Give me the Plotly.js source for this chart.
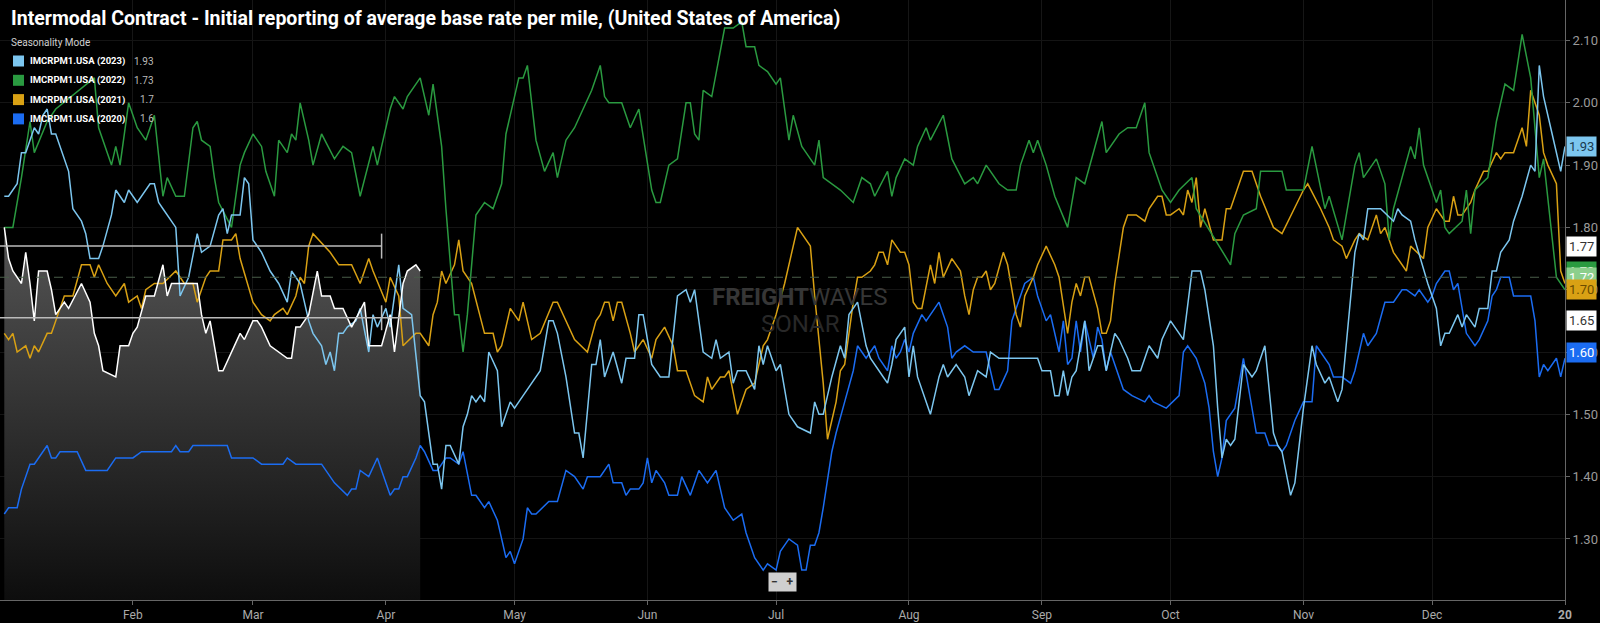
<!DOCTYPE html>
<html>
<head>
<meta charset="utf-8">
<script src="https://cdn.plot.ly/plotly-3.0.1.min.js"></script>
<style>
  html, body { margin: 0; padding: 0; background: #000; }
  #plotDiv { width: 1600px; height: 623px; }
</style>
</head>
<body>
<div id="plotDiv"></div>
<script>
'use strict';

// seasonality mode: x is the day of the year
const monthTicks = [31, 59, 90, 120, 151, 181, 212, 243, 273, 304, 334, 365];
const monthLabels = ['Feb', 'Mar', 'Apr', 'May', 'Jun', 'Jul', 'Aug', 'Sep', 'Oct', 'Nov', 'Dec', '<b>20</b>'];
const yTicks = [1.30, 1.40, 1.50, 1.60, 1.70, 1.80, 1.90, 2.00, 2.10];

const days2022 = [1,3,5,7,8,11,13,20,22,23,26,27,28,30,32,34,36,38,39,41,43,45,46,47,49,50,51,54,55,56,57,59,61,62,64,65,67,68,69,
  70,72,73,75,78,80,82,84,87,88,91,92,94,95,98,100,101,103,104,106,107,108,109,111,113,115,117,
  118,121,122,123,125,127,129,130,132,134,136,138,140,141,142,145,147,149,152,153,154,156,158,160,161,162,163,
  164,166,169,171,173,174,176,177,179,181,182,183,184,185,187,188,190,191,192,196,199,201,203,204,207,208,209,211,
  213,214,216,217,220,222,225,227,228,230,233,235,237,238,240,241,242,244,246,249,251,253,255,257,
  258,259,261,263,265,267,268,271,273,275,278,279,
  287,288,290,293,294,299,300,304,306,309,310,313,316,317,318,321,323,324,325,329,330,331,332,335,336,337,338,341,342,343,344,347,349,351,353,355,357,359,360,363,365];
const rate2022 = [1.80,1.80,1.88,1.97,1.92,1.97,1.99,2.03,2.04,1.96,1.90,1.93,1.90,2.00,1.96,1.94,1.98,1.85,1.88,1.85,1.85,1.96,1.97,1.94,1.93,1.88,1.84,1.80,1.85,1.90,1.92,1.95,1.93,1.89,1.85,1.94,1.92,1.95,1.94,
  2.00,1.94,1.90,1.95,1.91,1.93,1.92,1.85,1.93,1.90,1.99,2.01,1.99,2.01,2.04,1.98,2.03,1.93,1.83,1.66,1.66,1.60,1.66,1.82,1.84,1.83,1.87,
  1.95,2.04,2.04,2.06,1.94,1.89,1.92,1.88,1.94,1.96,1.99,2.02,2.06,2.01,2.00,2.00,1.96,1.99,1.86,1.84,1.84,1.90,1.91,2.00,2.00,1.95,1.94,
  2.02,2.01,2.12,2.12,2.13,2.09,2.09,2.06,2.05,2.03,2.04,1.99,1.94,1.98,1.93,1.92,1.90,1.94,1.88,1.86,1.84,1.88,1.87,1.85,1.89,1.85,1.88,1.91,
  1.90,1.93,1.96,1.94,1.98,1.91,1.87,1.88,1.87,1.90,1.87,1.86,1.86,1.90,1.94,1.92,1.94,1.90,1.85,1.80,1.88,1.87,1.92,1.97,
  1.92,1.93,1.95,1.96,1.96,2.00,1.92,1.86,1.84,1.86,1.88,1.83,
  1.74,1.79,1.82,1.83,1.89,1.89,1.86,1.86,1.93,1.83,1.85,1.78,1.90,1.92,1.88,1.91,1.87,1.78,1.83,1.93,1.91,1.96,1.90,1.84,1.86,1.80,1.79,1.81,1.86,1.79,1.86,1.88,1.97,2.03,2.02,2.11,2.04,1.88,1.91,1.72,1.70];

const days2023 = [1,2,4,5,6,7,8,9,10,11,12,13,15,16,17,18,19,20,21,23,
  24,26,27,29,30,32,33,35,36,37,38,41,42,44,46,47,49,51,52,53,54,56,57,58,59,61,63,65,67,68,69,
  70,72,73,75,76,77,78,79,80,81,83,84,86,87,88,90,91,93,94,96,97,98,99,100,101,102,103,104,105,107,108,109,110,111,112,113,114,116,
  117,119,120,122,124,126,128,129,130,132,134,135,136,138,139,140,141,143,145,146,148,149,150,152,154,156,158,160,161,162,163,
  164,166,167,168,170,171,172,174,176,177,178,179,181,182,184,186,189,190,191,192,194,196,197,198,200,202,203,206,207,208,209,211,
  212,213,214,217,219,220,221,223,225,226,228,230,231,233,242,243,245,246,247,248,249,250,251,253,254,256,257,
  258,260,261,263,264,266,267,268,270,271,273,275,276,278,280,281,283,284,
  285,286,287,288,290,292,293,295,297,298,299,301,302,304,306,307,309,310,312,313,314,316,317,318,319,322,325,326,327,329,330,333,335,336,337,338,340,341,342,344,345,347,348,349,350,352,353,355,357,358,359,360,362,364,365];
const rate2023 = [1.85,1.85,1.87,1.92,1.92,1.94,1.96,1.95,1.98,1.99,1.95,1.95,1.91,1.89,1.83,1.82,1.81,1.79,1.75,1.75,
  1.77,1.82,1.86,1.84,1.86,1.84,1.85,1.87,1.87,1.84,1.83,1.80,1.69,1.72,1.79,1.76,1.77,1.82,1.83,1.79,1.82,1.82,1.88,1.87,1.78,1.76,1.73,1.71,1.68,1.73,1.72,
  1.71,1.65,1.63,1.61,1.58,1.60,1.57,1.63,1.63,1.64,1.65,1.67,1.60,1.66,1.64,1.67,1.64,1.74,1.67,1.66,1.60,1.53,1.52,1.47,1.42,1.42,1.38,1.45,1.45,1.42,1.48,1.50,1.53,1.52,1.53,1.52,1.60,1.57,
  1.48,1.52,1.51,1.53,1.55,1.57,1.65,1.65,1.63,1.56,1.47,1.47,1.43,1.58,1.58,1.62,1.56,1.60,1.55,1.59,1.59,1.66,1.66,1.58,1.56,1.56,1.69,1.70,1.68,1.70,1.65,
  1.60,1.59,1.62,1.59,1.60,1.55,1.57,1.57,1.54,1.61,1.58,1.61,1.57,1.58,1.50,1.48,1.47,1.52,1.50,1.50,1.56,1.61,1.59,1.66,1.68,1.61,1.59,1.56,1.55,1.58,1.62,1.64,
  1.56,1.61,1.56,1.50,1.56,1.58,1.56,1.58,1.56,1.53,1.57,1.56,1.60,1.59,1.59,1.57,1.57,1.53,1.53,1.57,1.53,1.56,1.57,1.65,1.57,1.61,1.61,
  1.57,1.63,1.62,1.59,1.57,1.57,1.59,1.61,1.59,1.62,1.65,1.63,1.62,1.73,1.73,1.70,1.61,1.51,
  1.43,1.46,1.45,1.46,1.58,1.56,1.57,1.61,1.47,1.45,1.44,1.37,1.39,1.51,1.61,1.58,1.55,1.56,1.52,1.54,1.61,1.76,1.79,1.78,1.83,1.83,1.81,1.83,1.82,1.81,1.78,1.71,1.67,1.61,1.63,1.63,1.66,1.64,1.66,1.64,1.67,1.67,1.73,1.73,1.76,1.78,1.81,1.85,1.90,1.89,2.06,2.01,1.95,1.89,1.93];

const days2021 = [1,2,3,4,6,7,8,9,11,12,13,15,17,19,21,22,23,
  25,27,29,30,32,33,34,36,38,41,43,45,46,48,49,51,52,54,55,56,59,61,63,64,66,67,69,70,
  71,72,73,77,79,80,82,84,86,87,90,91,93,94,97,98,100,101,102,103,104,106,107,108,109,110,113,115,116,117,
  119,121,122,124,126,129,130,134,137,139,140,141,142,143,144,145,147,148,150,152,153,155,157,158,160,162,164,
  165,166,168,169,170,172,174,176,178,179,181,183,185,186,189,190,192,193,195,196,197,198,199,200,201,203,204,205,206,207,208,210,211,
  212,213,214,215,217,218,219,220,222,224,225,226,227,228,229,230,231,232,234,235,237,238,239,241,242,244,246,247,249,250,251,252,253,254,256,257,258,
  259,260,262,263,264,265,267,268,270,271,272,273,275,276,277,278,279,280,281,283,285,
  286,287,290,292,294,297,299,304,305,308,310,311,313,314,316,317,319,321,322,323,325,328,329,332,333,335,337,338,339,340,341,343,344,346,347,349,350,351,353,355,356,357,359,360,361,363,364,365];
const rate2021 = [1.63,1.62,1.63,1.60,1.61,1.59,1.61,1.60,1.63,1.63,1.65,1.69,1.69,1.74,1.74,1.72,1.74,
  1.71,1.69,1.71,1.68,1.69,1.67,1.70,1.71,1.71,1.73,1.71,1.71,1.68,1.72,1.73,1.73,1.78,1.78,1.79,1.75,1.68,1.66,1.65,1.66,1.67,1.66,1.69,1.72,
  1.71,1.77,1.79,1.76,1.74,1.74,1.74,1.71,1.75,1.73,1.68,1.72,1.69,1.61,1.63,1.63,1.61,1.66,1.68,1.73,1.71,1.74,1.78,1.73,1.72,1.71,1.63,1.63,1.60,1.61,
  1.67,1.65,1.68,1.62,1.63,1.68,1.68,1.62,1.60,1.65,1.66,1.68,1.68,1.65,1.68,1.68,1.63,1.60,1.62,1.59,1.62,1.64,1.61,1.57,1.57,1.53,1.52,
  1.56,1.54,1.56,1.56,1.57,1.50,1.54,1.55,1.61,1.62,1.66,1.71,1.77,1.80,1.77,1.69,1.55,1.46,1.52,1.57,1.58,1.63,1.68,1.72,1.72,1.73,1.74,1.76,1.76,1.74,1.78,1.76,1.76,
  1.74,1.68,1.67,1.67,1.74,1.71,1.76,1.72,1.75,1.73,1.69,1.66,1.70,1.72,1.72,1.73,1.70,1.71,1.76,1.74,1.66,1.64,1.69,1.72,1.74,1.77,1.74,1.72,1.63,1.68,1.71,1.69,1.72,1.72,1.67,1.63,1.63,
  1.65,1.71,1.80,1.82,1.82,1.82,1.81,1.83,1.85,1.85,1.82,1.82,1.83,1.82,1.86,1.84,1.88,1.80,1.83,1.78,1.78,
  1.83,1.83,1.89,1.89,1.85,1.80,1.79,1.86,1.87,1.83,1.80,1.78,1.77,1.75,1.78,1.79,1.78,1.82,1.79,1.80,1.76,1.73,1.77,1.75,1.80,1.83,1.81,1.81,1.85,1.82,1.82,1.84,1.86,1.89,1.89,1.92,1.91,1.92,1.92,1.96,1.93,2.02,1.98,1.92,1.90,1.87,1.73,1.71];

const days2020 = [1,2,4,5,7,8,11,12,13,14,18,20,25,27,31,33,40,41,42,44,45,53,54,59,61,66,67,69,
  75,78,81,82,83,84,86,88,89,91,92,93,94,95,97,98,99,101,102,104,105,107,108,110,111,113,114,116,117,
  118,119,120,122,123,124,125,128,130,132,134,136,137,140,142,143,145,146,147,149,150,151,152,153,155,156,158,159,161,163,164,
  165,167,169,171,173,174,176,178,179,181,182,184,186,187,188,189,190,191,192,194,195,197,199,200,201,202,204,205,207,208,209,210,
  211,212,213,215,216,217,219,221,222,223,225,227,230,232,233,235,236,239,241,242,244,245,247,248,249,250,251,252,253,255,256,257,
  258,259,262,264,267,268,269,272,275,276,277,279,281,282,283,284,285,
  286,288,290,293,295,296,298,299,300,302,304,306,307,309,310,311,313,315,316,318,319,321,323,325,327,328,330,331,333,334,335,337,338,339,340,342,343,344,345,347,348,349,350,352,353,357,358,359,360,361,363,364,365];
const rate2020 = [1.34,1.35,1.35,1.38,1.42,1.42,1.45,1.43,1.43,1.44,1.44,1.41,1.41,1.43,1.43,1.44,1.44,1.45,1.44,1.44,1.45,1.45,1.43,1.43,1.42,1.42,1.43,1.42,
  1.42,1.39,1.37,1.38,1.38,1.41,1.40,1.43,1.41,1.37,1.38,1.38,1.40,1.40,1.43,1.45,1.44,1.41,1.41,1.43,1.43,1.42,1.44,1.37,1.37,1.35,1.36,1.33,1.30,
  1.27,1.28,1.26,1.30,1.35,1.34,1.34,1.36,1.36,1.41,1.40,1.38,1.40,1.40,1.42,1.39,1.39,1.37,1.38,1.38,1.39,1.43,1.39,1.41,1.39,1.37,1.37,1.40,1.37,1.41,1.40,
  1.39,1.41,1.35,1.33,1.34,1.31,1.27,1.25,1.26,1.25,1.28,1.30,1.29,1.25,1.25,1.29,1.29,1.31,1.35,1.44,1.47,1.52,1.57,1.61,1.60,1.59,1.61,1.59,1.57,1.61,1.59,1.60,
  1.62,1.60,1.63,1.66,1.65,1.66,1.68,1.64,1.59,1.60,1.61,1.60,1.60,1.54,1.54,1.57,1.65,1.71,1.72,1.69,1.65,1.66,1.60,1.65,1.58,1.59,1.65,1.60,1.65,1.59,1.64,1.62,
  1.57,1.60,1.54,1.53,1.52,1.53,1.52,1.51,1.53,1.60,1.61,1.59,1.55,1.51,1.44,1.40,1.43,
  1.49,1.51,1.59,1.47,1.47,1.45,1.45,1.44,1.45,1.49,1.52,1.52,1.61,1.59,1.58,1.56,1.56,1.55,1.57,1.63,1.61,1.63,1.68,1.68,1.70,1.70,1.69,1.70,1.68,1.69,1.71,1.73,1.73,1.70,1.71,1.63,1.62,1.61,1.62,1.65,1.69,1.70,1.72,1.72,1.69,1.69,1.65,1.56,1.58,1.57,1.59,1.56,1.59];

// highlighted white series with the grey shaded area (Jan to early Apr)
const daysWhite = [1,2,3,5,6,7,8,9,11,12,13,15,16,19,21,22,23,24,27,28,30,31,32,34,36,38,39,40,42,44,46,47,48,49,50,51,52,54,56,57,59,60,61,63,65,67,68,69,70,72,74,75,77,78,80,82,85,86,87,89,91,92,94,95,97,98];
const rateWhite = [1.80,1.75,1.73,1.71,1.76,1.71,1.65,1.73,1.73,1.70,1.66,1.68,1.67,1.71,1.68,1.63,1.61,1.57,1.56,1.61,1.61,1.63,1.64,1.69,1.69,1.74,1.69,1.71,1.71,1.71,1.71,1.66,1.63,1.65,1.61,1.57,1.57,1.60,1.63,1.62,1.65,1.65,1.64,1.61,1.60,1.59,1.59,1.64,1.64,1.66,1.73,1.69,1.69,1.67,1.67,1.64,1.68,1.61,1.61,1.61,1.66,1.60,1.71,1.73,1.74,1.73];

const legendNames = ['IMCRPM1.USA (2023)', 'IMCRPM1.USA (2022)', 'IMCRPM1.USA (2021)', 'IMCRPM1.USA (2020)'];
const legendValues = ['1.93', '1.73', '1.7', '1.6'];
const colors = ['#7cc6ef', '#2a9a40', '#d9a114', '#1b6cf2'];

// last-value badges on the right axis
const badgeValues = [1.93, 1.77, 1.73, 1.72, 1.70, 1.65, 1.60];
const badgeBg = ['#7cc6ef', '#ffffff', '#2a9a40', '#8ccf8c', '#d9a114', '#ffffff', '#1b6cf2'];
const badgeFg = ['#1a3a50', '#333333', '#ffffff', '#ffffff', '#6b4c00', '#333333', '#ffffff'];

const W = 1565, H = 600; // plot area size in px
function px(x) { return x / W; }
function py(y) { return 1 - y / H; }

function line(x, y, color, width) {
    return {x: x, y: y, type: 'scatter', mode: 'lines', hoverinfo: 'skip', showlegend: false,
        line: {color: color, width: width || 1.5}};
}

const shade = {
    x: daysWhite, y: rateWhite, type: 'scatter', mode: 'none', fill: 'tozeroy', hoverinfo: 'skip', showlegend: false,
    fillgradient: {type: 'vertical', start: 1.2, stop: 1.8, colorscale: [[0, '#0d0d0d'], [1, '#555555']]}
};

const data = [
    shade,
    line(days2020, rate2020, colors[3]),
    line(days2021, rate2021, colors[2]),
    line(days2022, rate2022, colors[1]),
    line(days2023, rate2023, colors[0]),
    line(daysWhite, rateWhite, '#ffffff')
];

const shapes = [
    {type: 'line', xref: 'paper', x0: 0, x1: 1, y0: 1.72, y1: 1.72, line: {color: '#4a5e4a', width: 1, dash: 'dash'}},
    {type: 'line', x0: 0, x1: 89, y0: 1.77, y1: 1.77, line: {color: '#bbbbbb', width: 1.5}},
    {type: 'line', x0: 89, x1: 89, y0: 1.75, y1: 1.79, line: {color: '#bbbbbb', width: 1.5}},
    {type: 'line', x0: 0, x1: 96, y0: 1.655, y1: 1.655, line: {color: '#bbbbbb', width: 1.5}},
    {type: 'line', x0: 89, x1: 89, y0: 1.635, y1: 1.675, line: {color: '#bbbbbb', width: 1.5}}
];

const annotations = [
    {xref: 'paper', yref: 'paper', x: px(9), y: py(19), xanchor: 'left', yanchor: 'middle', showarrow: false,
        text: '<b>Intermodal Contract - Initial reporting of average base rate per mile, (United States of America)</b>',
        font: {family: 'Roboto', size: 19.5, color: '#ffffff'}},
    {xref: 'paper', yref: 'paper', x: px(9), y: py(43), xanchor: 'left', yanchor: 'middle', showarrow: false,
        text: 'Seasonality Mode', font: {family: 'Roboto', size: 10, color: '#d0d0d0'}},
    {xref: 'paper', yref: 'paper', x: px(800), y: py(297), xanchor: 'center', yanchor: 'middle', showarrow: false,
        text: '<b>FREIGHT</b>WAVES', font: {family: 'Roboto', size: 24, color: '#363636'}},
    {xref: 'paper', yref: 'paper', x: px(800), y: py(324), xanchor: 'center', yanchor: 'middle', showarrow: false,
        text: 'SONAR', font: {family: 'Roboto', size: 24, color: '#282828'}},
    {xref: 'paper', yref: 'paper', x: px(782), y: py(582), xanchor: 'center', yanchor: 'middle', showarrow: false,
        text: '<b>−   +</b>', bgcolor: '#cfcfcf', borderpad: 2, font: {family: 'Roboto', size: 12, color: '#333333'}}
];

legendNames.forEach(function (name, i) {
    const y = 61 + i * 19.3;
    shapes.push({type: 'rect', xref: 'paper', yref: 'paper', x0: px(13), x1: px(24), y0: py(y - 5.5), y1: py(y + 5.5),
        fillcolor: colors[i], line: {width: 0}});
    annotations.push({xref: 'paper', yref: 'paper', x: px(28), y: py(y), xanchor: 'left', yanchor: 'middle', showarrow: false,
        text: '<b>' + name + '</b>', font: {family: 'Roboto', size: 9.5, color: '#ffffff'}});
    annotations.push({xref: 'paper', yref: 'paper', x: px(156), y: py(y), xanchor: 'right', yanchor: 'middle', showarrow: false,
        text: legendValues[i], font: {family: 'Roboto', size: 10, color: '#bbbbbb'}});
});

badgeValues.forEach(function (v, i) {
    annotations.push({xref: 'paper', yref: 'y', x: 1, y: v, xanchor: 'left', yanchor: 'middle', xshift: 1, showarrow: false,
        text: v.toFixed(2), bgcolor: badgeBg[i], borderpad: 2,
        font: {family: 'Roboto', size: 13, color: badgeFg[i]}});
});

const layout = {
    width: 1600, height: 623,
    paper_bgcolor: '#000000', plot_bgcolor: '#000000',
    margin: {l: 0, r: 35, t: 0, b: 23, pad: 0},
    showlegend: false,
    font: {family: 'Roboto', color: '#aaaaaa'},
    xaxis: {
        range: [0, 365], tickvals: monthTicks, ticktext: monthLabels,
        showgrid: true, gridcolor: '#161616', zeroline: false,
        showline: true, linecolor: '#666666', ticks: 'outside', ticklen: 4, tickcolor: '#666666',
        tickfont: {family: 'Roboto', size: 12, color: '#aaaaaa'}
    },
    yaxis: {
        side: 'right', range: [1.202, 2.165], tickvals: yTicks, ticktext: yTicks.map(function (v) { return v.toFixed(2); }),
        showgrid: true, gridcolor: '#141414', zeroline: false,
        showline: true, linecolor: '#666666', ticks: 'outside', ticklen: 4, tickcolor: '#666666',
        tickfont: {family: 'Roboto', size: 13, color: '#9a9a9a'}
    },
    shapes: shapes,
    annotations: annotations
};

Plotly.newPlot('plotDiv', data, layout, {displayModeBar: false, staticPlot: true});
</script>
</body>
</html>
